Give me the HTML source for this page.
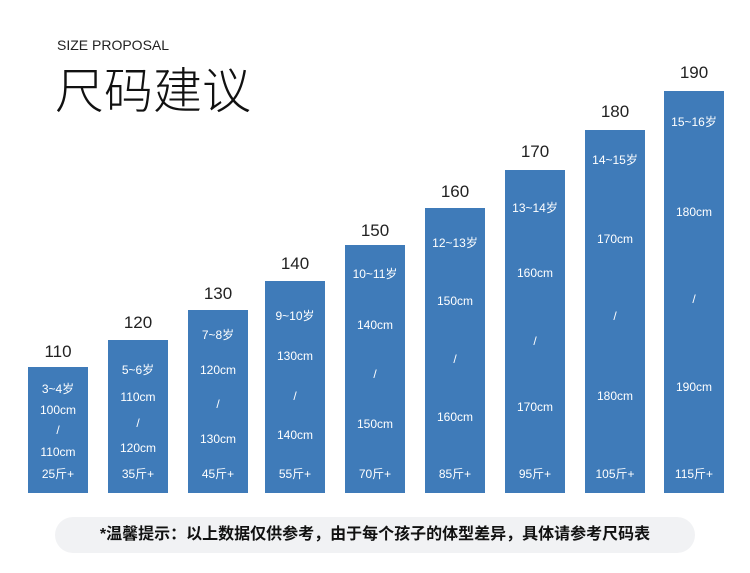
<!DOCTYPE html>
<html><head><meta charset="utf-8"><style>
body{margin:0;width:750px;height:573px;background:#fff;position:relative;overflow:hidden;font-family:"Liberation Sans","Noto Sans CJK SC",sans-serif}
.a{position:absolute;white-space:nowrap}
.bar{position:absolute;background:#3f7bb9;width:60px;bottom:80px}
.t{position:absolute;color:#fff;font-size:12px;width:60px;text-align:center;line-height:14px}
.l{position:absolute;color:#222;font-size:17px;width:60px;text-align:center;line-height:20px}
</style></head><body>
<div class="a" style="left:57px;top:37px;font-size:14px;color:#222">SIZE PROPOSAL</div>
<div class="a" style="left:55px;top:59px;font-size:49px;color:#111;line-height:58px;font-family:'Noto Sans CJK SC',sans-serif;font-weight:300">尺码建议</div>
<div id="c"></div>
<div class="a" style="left:55px;top:517px;width:640px;height:36px;border-radius:18px;background:#f1f2f4"></div>
<div class="a" style="left:55px;top:517px;width:640px;line-height:36px;text-align:center;font-size:16px;font-weight:bold;color:#111">*温馨提示：以上数据仅供参考，由于每个孩子的体型差异，具体请参考尺码表</div>
<script>
var d=[[28,367,352,'110',[['3~4岁',389],['100cm',410],['/',430],['110cm',452],['25斤+',474]]],
[108,340,323,'120',[['5~6岁',370],['110cm',397],['/',423],['120cm',448],['35斤+',474]]],
[188,310,294,'130',[['7~8岁',335],['120cm',370],['/',404],['130cm',439],['45斤+',474]]],
[265,281,264,'140',[['9~10岁',316],['130cm',356],['/',396],['140cm',435],['55斤+',474]]],
[345,245,231,'150',[['10~11岁',274],['140cm',325],['/',374],['150cm',424],['70斤+',474]]],
[425,208,192,'160',[['12~13岁',243],['150cm',301],['/',359],['160cm',417],['85斤+',474]]],
[505,170,152,'170',[['13~14岁',208],['160cm',273],['/',341],['170cm',407],['95斤+',474]]],
[585,130,112,'180',[['14~15岁',160],['170cm',239],['/',316],['180cm',396],['105斤+',474]]],
[664,91,73,'190',[['15~16岁',122],['180cm',212],['/',299],['190cm',387],['115斤+',474]]]];
var h='';d.forEach(function(b){h+='<div class="bar" style="left:'+b[0]+'px;top:'+b[1]+'px"></div>';
h+='<div class="l" style="left:'+b[0]+'px;top:'+(b[2]-10)+'px">'+b[3]+'</div>';
b[4].forEach(function(t){h+='<div class="t" style="left:'+b[0]+'px;top:'+(t[1]-7)+'px">'+t[0]+'</div>';});});
document.getElementById('c').innerHTML=h;
</script>
</body></html>
